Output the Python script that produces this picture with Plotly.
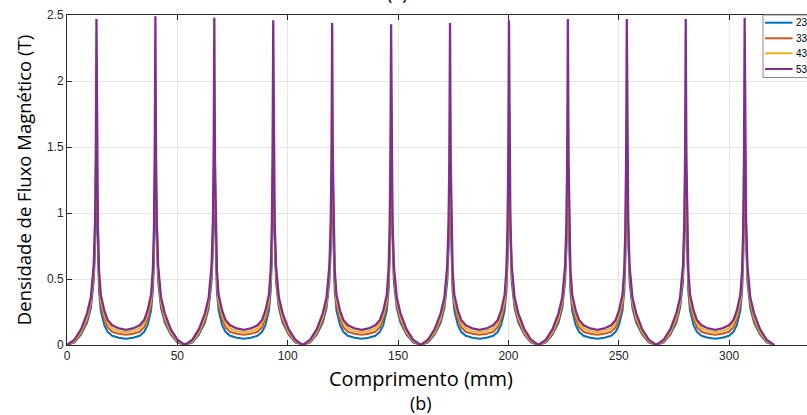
import plotly.graph_objects as go

# Position along the length (mm)
comprimento = [
    0, 3.4, 6.4, 9.1, 10.8, 12.1, 12.7, 13.05, 13.35, 13.65, 14.0, 14.5, 15.3, 16.9, 18.4, 20.5, 23.5,
    26.7, 29.9, 32.9, 35.0, 36.5, 38.1, 38.9, 39.4, 39.75, 40.05, 40.35, 40.7, 41.3, 42.6, 44.3, 47.0, 50.0,
    53.4, 56.8, 59.8, 62.5, 64.2, 65.5, 66.1, 66.45, 66.75, 67.05, 67.4, 67.9, 68.7, 70.3, 71.8, 73.9, 76.9,
    80.1, 83.3, 86.3, 88.4, 89.9, 91.5, 92.3, 92.8, 93.15, 93.45, 93.75, 94.1, 94.7, 96.0, 97.7, 100.4, 103.4,
    106.8, 110.2, 113.2, 115.9, 117.6, 118.9, 119.5, 119.85, 120.15, 120.45, 120.8, 121.3, 122.1, 123.7, 125.2, 127.3, 130.3,
    133.5, 136.7, 139.7, 141.8, 143.3, 144.9, 145.7, 146.2, 146.55, 146.85, 147.15, 147.5, 148.1, 149.4, 151.1, 153.8, 156.8,
    160.2, 163.6, 166.6, 169.3, 171.0, 172.3, 172.9, 173.25, 173.55, 173.85, 174.2, 174.7, 175.5, 177.1, 178.6, 180.7, 183.7,
    186.9, 190.1, 193.1, 195.2, 196.7, 198.3, 199.1, 199.6, 199.95, 200.25, 200.55, 200.9, 201.5, 202.8, 204.5, 207.2, 210.2,
    213.6, 217.0, 220.0, 222.7, 224.4, 225.7, 226.3, 226.65, 226.95, 227.25, 227.6, 228.1, 228.9, 230.5, 232.0, 234.1, 237.1,
    240.3, 243.5, 246.5, 248.6, 250.1, 251.7, 252.5, 253.0, 253.35, 253.65, 253.95, 254.3, 254.9, 256.2, 257.9, 260.6, 263.6,
    267.0, 270.4, 273.4, 276.1, 277.8, 279.1, 279.7, 280.05, 280.35, 280.65, 281.0, 281.5, 282.3, 283.9, 285.4, 287.5, 290.5,
    293.7, 296.9, 299.9, 302.0, 303.5, 305.1, 305.9, 306.4, 306.75, 307.05, 307.35, 307.7, 308.3, 309.6, 311.3, 314.0, 317.0,
    320.4,
]

# Magnetic flux density (T) for each curve
b_23 = [
    0, 0.02, 0.08, 0.17, 0.28, 0.48, 0.72, 1.00, 1.30, 1.00, 0.64, 0.41, 0.26, 0.15, 0.10, 0.07, 0.055,
    0.048, 0.055, 0.07, 0.10, 0.15, 0.26, 0.41, 0.64, 1.00, 1.30, 1.00, 0.72, 0.48, 0.28, 0.17, 0.08, 0.02,
    0, 0.02, 0.08, 0.17, 0.28, 0.48, 0.72, 1.00, 1.30, 1.00, 0.64, 0.41, 0.26, 0.15, 0.10, 0.07, 0.055,
    0.048, 0.055, 0.07, 0.10, 0.15, 0.26, 0.41, 0.64, 1.00, 1.30, 1.00, 0.72, 0.48, 0.28, 0.17, 0.08, 0.02,
    0, 0.02, 0.08, 0.17, 0.28, 0.48, 0.72, 1.00, 1.30, 1.00, 0.64, 0.41, 0.26, 0.15, 0.10, 0.07, 0.055,
    0.048, 0.055, 0.07, 0.10, 0.15, 0.26, 0.41, 0.64, 1.00, 1.30, 1.00, 0.72, 0.48, 0.28, 0.17, 0.08, 0.02,
    0, 0.02, 0.08, 0.17, 0.28, 0.48, 0.72, 1.00, 1.30, 1.00, 0.64, 0.41, 0.26, 0.15, 0.10, 0.07, 0.055,
    0.048, 0.055, 0.07, 0.10, 0.15, 0.26, 0.41, 0.64, 1.00, 1.30, 1.00, 0.72, 0.48, 0.28, 0.17, 0.08, 0.02,
    0, 0.02, 0.08, 0.17, 0.28, 0.48, 0.72, 1.00, 1.30, 1.00, 0.64, 0.41, 0.26, 0.15, 0.10, 0.07, 0.055,
    0.048, 0.055, 0.07, 0.10, 0.15, 0.26, 0.41, 0.64, 1.00, 1.30, 1.00, 0.72, 0.48, 0.28, 0.17, 0.08, 0.02,
    0, 0.02, 0.08, 0.17, 0.28, 0.48, 0.72, 1.00, 1.30, 1.00, 0.64, 0.41, 0.26, 0.15, 0.10, 0.07, 0.055,
    0.048, 0.055, 0.07, 0.10, 0.15, 0.26, 0.41, 0.64, 1.00, 1.30, 1.00, 0.72, 0.48, 0.28, 0.17, 0.08, 0.02,
    0,
]
b_33 = [
    0, 0.025, 0.09, 0.19, 0.31, 0.53, 0.80, 1.15, 1.55, 1.15, 0.72, 0.47, 0.31, 0.20, 0.135, 0.10, 0.085,
    0.078, 0.085, 0.10, 0.135, 0.20, 0.31, 0.47, 0.72, 1.15, 1.55, 1.15, 0.80, 0.53, 0.31, 0.19, 0.09, 0.025,
    0, 0.025, 0.09, 0.19, 0.31, 0.53, 0.80, 1.15, 1.55, 1.15, 0.72, 0.47, 0.31, 0.20, 0.135, 0.10, 0.085,
    0.078, 0.085, 0.10, 0.135, 0.20, 0.31, 0.47, 0.72, 1.15, 1.55, 1.15, 0.80, 0.53, 0.31, 0.19, 0.09, 0.025,
    0, 0.025, 0.09, 0.19, 0.31, 0.53, 0.80, 1.15, 1.55, 1.15, 0.72, 0.47, 0.31, 0.20, 0.135, 0.10, 0.085,
    0.078, 0.085, 0.10, 0.135, 0.20, 0.31, 0.47, 0.72, 1.15, 1.55, 1.15, 0.80, 0.53, 0.31, 0.19, 0.09, 0.025,
    0, 0.025, 0.09, 0.19, 0.31, 0.53, 0.80, 1.15, 1.55, 1.15, 0.72, 0.47, 0.31, 0.20, 0.135, 0.10, 0.085,
    0.078, 0.085, 0.10, 0.135, 0.20, 0.31, 0.47, 0.72, 1.15, 1.55, 1.15, 0.80, 0.53, 0.31, 0.19, 0.09, 0.025,
    0, 0.025, 0.09, 0.19, 0.31, 0.53, 0.80, 1.15, 1.55, 1.15, 0.72, 0.47, 0.31, 0.20, 0.135, 0.10, 0.085,
    0.078, 0.085, 0.10, 0.135, 0.20, 0.31, 0.47, 0.72, 1.15, 1.55, 1.15, 0.80, 0.53, 0.31, 0.19, 0.09, 0.025,
    0, 0.025, 0.09, 0.19, 0.31, 0.53, 0.80, 1.15, 1.55, 1.15, 0.72, 0.47, 0.31, 0.20, 0.135, 0.10, 0.085,
    0.078, 0.085, 0.10, 0.135, 0.20, 0.31, 0.47, 0.72, 1.15, 1.55, 1.15, 0.80, 0.53, 0.31, 0.19, 0.09, 0.025,
    0,
]
b_43 = [
    0, 0.03, 0.10, 0.21, 0.33, 0.56, 0.86, 1.28, 1.85, 1.28, 0.79, 0.52, 0.34, 0.23, 0.165, 0.125, 0.105,
    0.096, 0.105, 0.125, 0.165, 0.23, 0.34, 0.52, 0.79, 1.28, 1.85, 1.28, 0.86, 0.56, 0.33, 0.21, 0.10, 0.03,
    0, 0.03, 0.10, 0.21, 0.33, 0.56, 0.86, 1.28, 1.85, 1.28, 0.79, 0.52, 0.34, 0.23, 0.165, 0.125, 0.105,
    0.096, 0.105, 0.125, 0.165, 0.23, 0.34, 0.52, 0.79, 1.28, 1.85, 1.28, 0.86, 0.56, 0.33, 0.21, 0.10, 0.03,
    0, 0.03, 0.10, 0.21, 0.33, 0.56, 0.86, 1.28, 1.85, 1.28, 0.79, 0.52, 0.34, 0.23, 0.165, 0.125, 0.105,
    0.096, 0.105, 0.125, 0.165, 0.23, 0.34, 0.52, 0.79, 1.28, 1.85, 1.28, 0.86, 0.56, 0.33, 0.21, 0.10, 0.03,
    0, 0.03, 0.10, 0.21, 0.33, 0.56, 0.86, 1.28, 1.85, 1.28, 0.79, 0.52, 0.34, 0.23, 0.165, 0.125, 0.105,
    0.096, 0.105, 0.125, 0.165, 0.23, 0.34, 0.52, 0.79, 1.28, 1.85, 1.28, 0.86, 0.56, 0.33, 0.21, 0.10, 0.03,
    0, 0.03, 0.10, 0.21, 0.33, 0.56, 0.86, 1.28, 1.85, 1.28, 0.79, 0.52, 0.34, 0.23, 0.165, 0.125, 0.105,
    0.096, 0.105, 0.125, 0.165, 0.23, 0.34, 0.52, 0.79, 1.28, 1.85, 1.28, 0.86, 0.56, 0.33, 0.21, 0.10, 0.03,
    0, 0.03, 0.10, 0.21, 0.33, 0.56, 0.86, 1.28, 1.85, 1.28, 0.79, 0.52, 0.34, 0.23, 0.165, 0.125, 0.105,
    0.096, 0.105, 0.125, 0.165, 0.23, 0.34, 0.52, 0.79, 1.28, 1.85, 1.28, 0.86, 0.56, 0.33, 0.21, 0.10, 0.03,
    0,
]
b_53 = [
    0, 0.04, 0.12, 0.24, 0.36, 0.60, 0.93, 1.42, 2.47, 1.42, 0.88, 0.57, 0.38, 0.26, 0.19, 0.15, 0.125,
    0.115, 0.125, 0.15, 0.19, 0.26, 0.38, 0.57, 0.88, 1.42, 2.49, 1.42, 0.93, 0.60, 0.36, 0.24, 0.12, 0.04,
    0, 0.04, 0.12, 0.24, 0.36, 0.60, 0.93, 1.42, 2.48, 1.42, 0.88, 0.57, 0.38, 0.26, 0.19, 0.15, 0.125,
    0.115, 0.125, 0.15, 0.19, 0.26, 0.38, 0.57, 0.88, 1.42, 2.46, 1.42, 0.93, 0.60, 0.36, 0.24, 0.12, 0.04,
    0, 0.04, 0.12, 0.24, 0.36, 0.60, 0.93, 1.42, 2.44, 1.42, 0.88, 0.57, 0.38, 0.26, 0.19, 0.15, 0.125,
    0.115, 0.125, 0.15, 0.19, 0.26, 0.38, 0.57, 0.88, 1.42, 2.43, 1.42, 0.93, 0.60, 0.36, 0.24, 0.12, 0.04,
    0, 0.04, 0.12, 0.24, 0.36, 0.60, 0.93, 1.42, 2.44, 1.42, 0.88, 0.57, 0.38, 0.26, 0.19, 0.15, 0.125,
    0.115, 0.125, 0.15, 0.19, 0.26, 0.38, 0.57, 0.88, 1.42, 2.46, 1.42, 0.93, 0.60, 0.36, 0.24, 0.12, 0.04,
    0, 0.04, 0.12, 0.24, 0.36, 0.60, 0.93, 1.42, 2.47, 1.42, 0.88, 0.57, 0.38, 0.26, 0.19, 0.15, 0.125,
    0.115, 0.125, 0.15, 0.19, 0.26, 0.38, 0.57, 0.88, 1.42, 2.47, 1.42, 0.93, 0.60, 0.36, 0.24, 0.12, 0.04,
    0, 0.04, 0.12, 0.24, 0.36, 0.60, 0.93, 1.42, 2.47, 1.42, 0.88, 0.57, 0.38, 0.26, 0.19, 0.15, 0.125,
    0.115, 0.125, 0.15, 0.19, 0.26, 0.38, 0.57, 0.88, 1.42, 2.48, 1.42, 0.93, 0.60, 0.36, 0.24, 0.12, 0.04,
    0,
]

series_names = ["23", "33", "43", "53"]
series_values = [b_23, b_33, b_43, b_53]
series_colors = ["#0072BD", "#D95319", "#EDB120", "#7E2F8E"]
series_widths = [2.0, 2.0, 2.0, 2.3]

x_ticks = [0, 50, 100, 150, 200, 250, 300]
y_ticks = [0, 0.5, 1, 1.5, 2, 2.5]
y_tick_text = ["0", "0.5", "1", "1.5", "2", "2.5"]

W, H = 807, 415
ML, MR, MT, MB = 67, 0, 15, 70
PW, PH = W - ML - MR, H - MT - MB


def px(p):
    return (p - ML) / PW


def py(p):
    return (H - MB - p) / PH


fig = go.Figure()
for name, vals, col, lw in zip(series_names, series_values, series_colors, series_widths):
    fig.add_trace(go.Scatter(x=comprimento, y=vals, mode="lines", name=name,
                             line=dict(color=col, width=lw), showlegend=False))

axis_col = "#262626"
grid_col = "#e6e6e6"
tick_font = dict(family="Liberation Sans, Arial, sans-serif", size=12, color=axis_col)
y_title_font = dict(family="Open Sans, sans-serif", size=18.5, color="#000000")
x_title_font = dict(family="Open Sans, sans-serif", size=20, color="#000000")
tag_font = dict(family="Open Sans, sans-serif", size=18, color="#000000")

fig.update_xaxes(range=[0, PW / 2.207], tickvals=x_ticks, ticks="inside", ticklen=5,
                 tickcolor=axis_col, showline=True, linecolor=axis_col, linewidth=1,
                 mirror="ticks", showgrid=True, gridcolor=grid_col, zeroline=False,
                 tickfont=tick_font)
fig.update_yaxes(range=[0, 2.5], tickvals=y_ticks, ticktext=y_tick_text, ticks="inside",
                 ticklen=5, tickcolor=axis_col, showline=True, linecolor=axis_col,
                 linewidth=1, showgrid=True, gridcolor=grid_col, zeroline=False,
                 tickfont=tick_font,
                 title=dict(text="Densidade de Fluxo Magnético (T)", font=y_title_font, standoff=10))

annotations = [
    dict(text="Comprimento (mm)", x=px(420.5), y=py(378.5), xref="paper", yref="paper",
         showarrow=False, font=x_title_font, xanchor="center", yanchor="middle", borderpad=0),
    dict(text="(b)", x=px(420.5), y=py(402.5), xref="paper", yref="paper",
         showarrow=False, font=tag_font, xanchor="center", yanchor="middle", borderpad=0),
    dict(text="(a)", x=px(397), y=py(-7), xref="paper", yref="paper",
         showarrow=False, font=tag_font, xanchor="center", yanchor="middle", borderpad=0),
]

# Legend box, drawn at the upper right
shapes = [dict(type="rect", xref="paper", yref="paper", x0=px(763), x1=px(840),
               y0=py(77.5), y1=1, line=dict(color="#8c8c8c", width=1), fillcolor="white",
               layer="above")]
legend_rows = [22.7, 38.3, 53.3, 69.0]
for name, col, row in zip(series_names, series_colors, legend_rows):
    shapes.append(dict(type="line", xref="paper", yref="paper", x0=px(765), x1=px(792.5),
                       y0=py(row), y1=py(row), line=dict(color=col, width=2), layer="above"))
    annotations.append(dict(text=name, x=px(793.5), y=py(row), xref="paper", yref="paper",
                            showarrow=False, xanchor="left", yanchor="middle",
                            font=dict(family="Liberation Sans, Arial, sans-serif", size=10,
                                      color="#000000")))

fig.update_layout(width=W, height=H, margin=dict(l=ML, r=MR, t=MT, b=MB, pad=0),
                  plot_bgcolor="white", paper_bgcolor="white",
                  annotations=annotations, shapes=shapes, showlegend=False)

fig.write_html("out.html")
